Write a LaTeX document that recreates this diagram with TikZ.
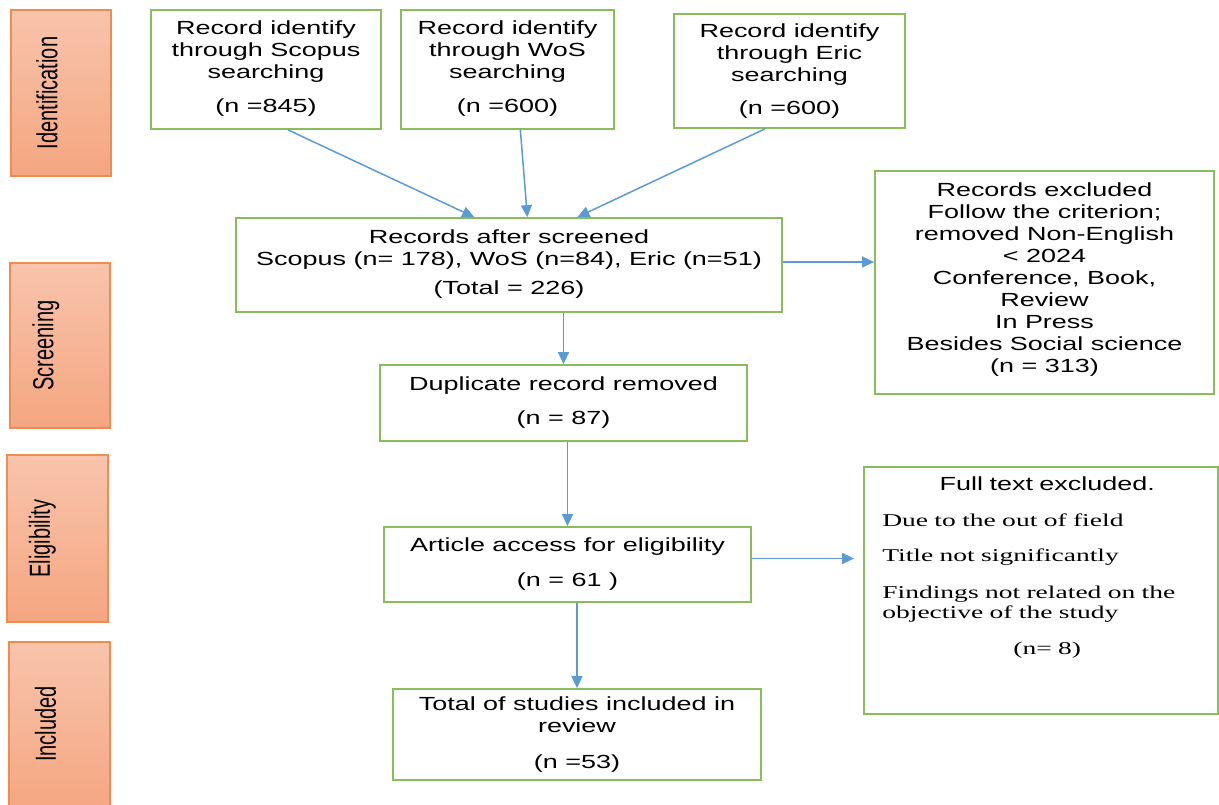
\documentclass[tikz,border=0pt]{standalone}
\usepackage{fontspec}
\setmainfont[FakeStretch=1.42]{Liberation Sans}
\newfontfamily\timesw[FakeStretch=1.53]{Liberation Serif}
\newfontfamily\phasefont{Liberation Sans}
\usepackage{graphicx}
\usetikzlibrary{arrows.meta,positioning}

\definecolor{boxgreen}{RGB}{135,190,90}
\definecolor{arrowblue}{RGB}{91,155,213}
\definecolor{phaseline}{RGB}{240,140,80}
\definecolor{phasetop}{RGB}{248,196,172}
\definecolor{phasebot}{RGB}{244,166,128}

\begin{document}
\begin{tikzpicture}[x=1pt,y=-1pt,
    greenbox/.style={draw=boxgreen, line width=1.8pt, align=center, inner sep=0pt,
      font=\fontsize{19}{22}\selectfont},
    phasebox/.style={draw=phaseline, line width=1.5pt, top color=phasetop,
      bottom color=phasebot, inner sep=0pt},
    phasetext/.style={rotate=90, inner sep=0pt, font=\phasefont\fontsize{20}{22}\selectfont},
    flow/.style={draw=arrowblue, line width=1.5pt, -{Triangle[length=12pt,width=11pt]}}
  ]
  \useasboundingbox (0,0) rectangle (1219,805);

  % phases on the left
  \node[phasebox, minimum width=100pt, minimum height=166pt] (ident) at (61,93) {};
  \node[phasebox, minimum width=100pt, minimum height=165pt] (screen) at (60,345.5) {};
  \node[phasebox, minimum width=101pt, minimum height=167pt] (elig) at (57.5,538.5) {};
  \node[phasebox, minimum width=101pt, minimum height=170pt] (incl) at (59.5,727) {};

  \node[phasetext] (identtxt) at ([xshift=-14pt]ident.center) {\scalebox{1}[1.45]{Identification}};
  \node[phasetext] (screentxt) at ([xshift=-14pt]screen.center) {\scalebox{1}[1.45]{Screening}};
  \node[phasetext] (eligtxt) at ([xshift=-15pt]elig.center) {\scalebox{1}[1.45]{Eligibility}};
  \node[phasetext] (incltxt) at ([xshift=-14pt,yshift=3pt]incl.center) {\scalebox{1}[1.45]{Included}};

  % identification
  \node[greenbox, minimum width=230pt, minimum height=119pt] (scopus) at (266,69.5)
    {Record identify\\through Scopus\\searching\\[12pt](n =845)\\[-16pt]\mbox{}};
  \node[greenbox, minimum width=213pt, minimum height=119pt] (wos) at (507.5,69.5)
    {Record identify\\through WoS\\searching\\[12pt](n =600)\\[-16pt]\mbox{}};
  \node[greenbox, minimum width=231pt, minimum height=114pt] (eric) at (789.5,71)
    {Record identify\\through Eric\\searching\\[11pt](n =600)};

  % screening
  \node[greenbox, minimum width=546pt, minimum height=94pt] (screened) at (509,265)
    {Records after screened\\Scopus (n= 178), WoS (n=84), Eric (n=51)\\[7pt](Total = 226)\\[-16pt]\mbox{}};
  \node[greenbox, minimum width=339pt, minimum height=223pt] (excl) at (1044.5,282.5)
    {Records excluded\\Follow the criterion;\\removed Non-English\\< 2024\\Conference, Book,\\Review\\In Press\\Besides Social science\\(n = 313)\\[-12pt]\mbox{}};
  \node[greenbox, minimum width=367pt, minimum height=76pt] (dup) at (563.5,403)
    {Duplicate record removed\\[12pt](n = 87)};

  % eligibility
  \node[greenbox, minimum width=367pt, minimum height=75pt] (article) at (567.5,564.5)
    {Article access for eligibility\\[13pt](n = 61 )};
  \node[greenbox, minimum width=354pt, minimum height=247pt] (fulltext) at (1041,590.5) {};
  \node[anchor=north west, text width=330pt, inner sep=0pt,
    font=\fontsize{19}{22}\selectfont] (fulltextlist) at ([xshift=19pt,yshift=-10pt]fulltext.north west)
    {\parindent=0pt
     \centering Full text excluded.\par
     \raggedright\timesw\fontsize{18}{20}\selectfont
     \vspace{16pt}Due to the out of field\par
     \vspace{15pt}Title not significantly\par
     \vspace{17pt}Findings not related on the\\objective of the study\par
     \vspace{16pt}\centering (n= 8)\par};

  % included
  \node[greenbox, minimum width=368pt, minimum height=91pt] (total) at (577,734.5)
    {Total of studies included in\\review\\[14pt](n =53)};

  % arrows
  \draw[flow] (scopus.-70) -- (screened.126);
  \draw[flow] (wos.-78) -- (screened.69);
  \draw[flow] (eric.-113) -- (screened.35);
  \draw[flow] (screened.south -| dup.north) -- (dup.north);
  \draw[flow] ([yshift=3pt]screened.east) -- ([yshift=3pt]screened.east -| excl.west);
  \draw[flow] (dup.south -| article.north) -- (article.north);
  \draw[flow, shorten >=9pt] ([yshift=6pt]article.east) -- ([yshift=6pt]article.east -| fulltext.west);
  \draw[flow] (article.south -| total.north) -- (total.north);
\end{tikzpicture}
\end{document}
